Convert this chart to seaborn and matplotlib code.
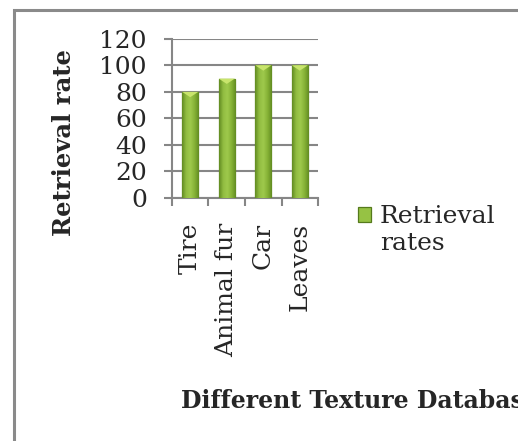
import matplotlib.pyplot as plt
import numpy as np
import pandas as pd
import seaborn as sns
from matplotlib.colors import LinearSegmentedColormap
from matplotlib.legend_handler import HandlerPatch
from matplotlib.patches import Rectangle

categories = ['Tire', 'Animal fur', 'Car', 'Leaves']
retrieval_rates = [80, 90, 100, 100]
y_ticks = [0, 20, 40, 60, 80, 100, 120]


def top_aligned_box(legend, orig_handle, xdescent, ydescent, width, height,
                    fontsize):
    # put the legend key next to the first of the two label lines
    return Rectangle((-xdescent, -ydescent + 0.62 * fontsize), width, height)


def main():
    sns.set_style('white')
    plt.rcParams['font.family'] = ['DejaVu Serif']

    fig = plt.figure(figsize=(5.18, 4.41), dpi=100)
    ax = fig.add_axes([0.332, 0.551, 0.282, 0.361])

    df = pd.DataFrame({'category': categories, 'rate': retrieval_rates})
    sns.barplot(data=df, x='category', y='rate', color='#86b036',
                width=0.44, edgecolor='#557a1c', linewidth=0.9,
                saturation=1, ax=ax, zorder=3)

    # horizontal shading on each bar
    cmap = LinearSegmentedColormap.from_list(
        'g', ['#628c22', '#92bd42', '#9ec94c', '#86b236', '#628c22'])
    grad = np.linspace(0, 1, 64).reshape(1, -1)
    for p in ax.patches:
        x0, y0 = p.get_x(), p.get_y()
        w, h = p.get_width(), p.get_height()
        im = ax.imshow(grad, cmap=cmap, aspect='auto',
                       extent=[x0, x0 + w, y0, y0 + h], zorder=3.5)
        im.set_clip_path(p)
        tri = plt.Polygon([[x0, y0 + h], [x0 + w, y0 + h],
                           [x0 + w / 2, y0 + h - 4]],
                          color='#c8e46c', zorder=4, lw=0)
        ax.add_patch(tri)

    ax.set_xlim(-0.5, len(categories) - 0.5)
    ax.set_ylim(0, 120)
    ax.set_yticks(y_ticks)
    ax.set_yticklabels([str(v) for v in y_ticks], fontsize=18)
    ax.grid(axis='y', color='#868686', linewidth=1.5, zorder=0)
    ax.set_axisbelow(True)

    # category ticks at boundaries
    ax.set_xticks(np.arange(len(categories) + 1) - 0.5, minor=True)
    ax.set_xticks(np.arange(len(categories)))
    ax.set_xticklabels(categories, rotation=90, fontsize=18)
    ax.tick_params(axis='x', which='major', length=0, pad=18)
    ax.tick_params(axis='x', which='minor', length=6, color='#868686',
                   width=1.5, direction='out', bottom=True)
    ax.tick_params(axis='y', length=6, color='#868686', width=1.5,
                   direction='out', left=True, pad=12)

    for s in ['top', 'right']:
        ax.spines[s].set_visible(False)
    for s in ['left', 'bottom']:
        ax.spines[s].set_color('#868686')
        ax.spines[s].set_linewidth(1.5)

    ax.set_ylabel('Retrieval rate', fontsize=17.5, fontweight='bold')
    ax.yaxis.set_label_coords(-0.66, 0.35)
    ax.set_xlabel('Different Texture Databases', fontsize=17,
                  fontweight='bold', ha='left')
    ax.xaxis.set_label_coords(0.06, -1.2)

    handle = Rectangle((0, 0), 1, 1, facecolor='#96c244',
                       edgecolor='#557a1c', linewidth=0.9)
    fig.legend([handle], ['Retrieval\nrates'], loc='upper left',
               bbox_to_anchor=(0.671, 0.557), frameon=False, fontsize=18,
               handlelength=0.55, handleheight=0.55, handletextpad=0.35,
               borderaxespad=0,
               handler_map={Rectangle: HandlerPatch(patch_func=top_aligned_box)})

    # chart-area frame (cropped on right and bottom)
    fig.patches.append(Rectangle((0.027, -0.1), 1.2, 1.077,
                                 transform=fig.transFigure, fill=False,
                                 edgecolor='#8a8a8a', linewidth=2.2))

    fig.savefig('out.png', dpi=100)


if __name__ == '__main__':
    main()
